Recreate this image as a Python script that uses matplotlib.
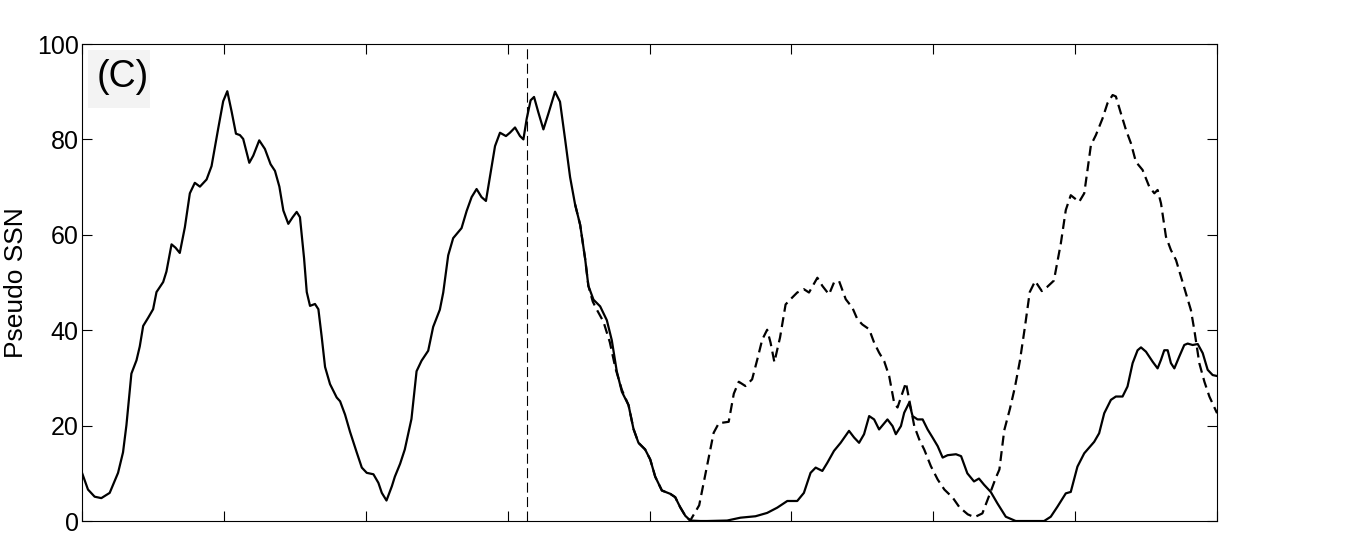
import matplotlib
matplotlib.use('Agg')
import matplotlib.pyplot as plt
from matplotlib.patches import Rectangle

# ======================
# DATA (x in tick units, 0..8)
# ======================
solid_x = [0, 0.042, 0.089, 0.136, 0.195, 0.254, 0.289, 0.313, 0.348, 0.384, 0.407, 0.431, 0.466,
           0.501, 0.525, 0.572, 0.595, 0.631, 0.659, 0.689, 0.725, 0.760, 0.795, 0.831, 0.878,
           0.913, 0.960, 0.995, 1.024, 1.054, 1.085, 1.113, 1.136, 1.179, 1.207, 1.249, 1.289,
           1.329, 1.36, 1.391, 1.419, 1.454, 1.485, 1.513, 1.536, 1.565, 1.584, 1.607, 1.642,
           1.666, 1.689, 1.713, 1.748, 1.795, 1.819, 1.854, 1.889, 1.936, 1.972, 2.007, 2.054,
           2.089, 2.113, 2.146, 2.184, 2.205, 2.242, 2.275, 2.322, 2.358, 2.393, 2.44, 2.475,
           2.522, 2.546, 2.581, 2.616, 2.675, 2.711, 2.746, 2.781, 2.816, 2.847, 2.875, 2.911,
           2.946, 2.988, 3.016, 3.052, 3.087, 3.111, 3.134, 3.162, 3.186, 3.216, 3.252, 3.287,
           3.334, 3.369, 3.405, 3.44, 3.475, 3.511, 3.546, 3.569, 3.605, 3.652, 3.699, 3.734,
           3.769, 3.805, 3.852, 3.887, 3.922, 3.969, 4.005, 4.04, 4.087, 4.146, 4.181, 4.216,
           4.252, 4.287, 4.358, 4.405, 4.547, 4.641, 4.747, 4.829, 4.9, 4.971, 5.041, 5.088,
           5.135, 5.171, 5.218, 5.253, 5.3, 5.347, 5.406, 5.442, 5.477, 5.512, 5.548, 5.583,
           5.618, 5.677, 5.713, 5.736, 5.772, 5.795, 5.83, 5.854, 5.889, 5.925, 5.96, 5.995,
           6.031, 6.066, 6.101, 6.16, 6.196, 6.24, 6.287, 6.322, 6.358, 6.405, 6.452, 6.511,
           6.581, 6.781, 6.828, 6.875, 6.934, 6.969, 7.016, 7.064, 7.134, 7.169, 7.205, 7.252,
           7.287, 7.334, 7.369, 7.405, 7.44, 7.464, 7.499, 7.546, 7.581, 7.605, 7.628, 7.652,
           7.675, 7.699, 7.734, 7.769, 7.793, 7.828, 7.864, 7.899, 7.934, 7.969, 8.0]
solid_y = [10.1, 6.6, 5.1, 4.8, 5.9, 10.1, 14.4, 20.1, 30.9, 33.7, 36.6, 40.9, 42.6,
           44.4, 48, 50.1, 52.3, 58, 57.3, 56.2, 61.6, 68.7, 70.9, 70.1, 71.6,
           74.4, 82.3, 88, 90.1, 85.9, 81.2, 80.9, 80.1, 75.1, 76.6, 79.8, 78,
           74.8, 73.4, 70.1, 65.1, 62.3, 63.7, 64.8, 63.7, 55.1, 48, 45.1, 45.5,
           44.4, 38.7, 32.3, 28.7, 25.9, 25.1, 22.3, 18.7, 14.4, 11.2, 10.1, 9.8,
           8, 5.9, 4.3, 7.3, 9.3, 12, 15, 21.4, 31.4, 33.6, 35.7, 40.7,
           44.3, 47.9, 55.7, 59.3, 61.4, 65, 67.9, 69.6, 67.9, 67.1, 72.1, 78.6,
           81.4, 80.7, 81.4, 82.5, 80.7, 80, 84.3, 88.2, 88.9, 85.7, 82.1, 85.4,
           90, 87.9, 80, 72.1, 66.4, 62.1, 55, 49.3, 46.4, 45, 42.1, 37.9,
           31.4, 27.1, 24.3, 19.3, 16.4, 15, 12.9, 9.3, 6.4, 5.7, 5, 2.9,
           1.1, 0.1, 0, 0, 0.1, 0.7, 1, 1.7, 2.8, 4.2, 4.2, 5.9,
           10.1, 11.2, 10.5, 12.2, 14.7, 16.4, 18.9, 17.5, 16.4, 18.2, 22, 21.3,
           19.2, 21.3, 19.9, 18.2, 19.9, 22.7, 24.8, 22, 21.3, 21.3, 19.2, 17.5,
           15.7, 13.3, 13.8, 14, 13.6, 10, 8.3, 8.9, 7.6, 6.1, 3.7, 0.9,
           0, 0, 0.9, 3, 5.8, 6.1, 11.4, 14.2, 16.6, 18.4, 22.6, 25.4,
           26.1, 26.1, 28.2, 33.1, 35.8, 36.4, 35.5, 33.4, 32, 33.8, 35.8, 35.8,
           33.1, 32, 34.5, 36.9, 37.2, 36.9, 37.1, 35.2, 31.7, 30.6, 30.4]

dashed_x = [3.475, 3.511, 3.546, 3.569, 3.6, 3.625, 3.675, 3.72, 3.76, 3.805, 3.852, 3.887,
            3.922, 3.969, 4.005, 4.04, 4.087, 4.146, 4.181, 4.216, 4.252, 4.287, 4.35, 4.405,
            4.452, 4.488, 4.558, 4.594, 4.629, 4.676, 4.723, 4.759, 4.794, 4.829, 4.853, 4.88,
            4.92, 4.959, 4.994, 5.041, 5.088, 5.124, 5.183, 5.218, 5.265, 5.3, 5.336, 5.383,
            5.43, 5.465, 5.5, 5.548, 5.583, 5.618, 5.654, 5.689, 5.724, 5.748, 5.783, 5.807,
            5.83, 5.866, 5.901, 5.936, 5.983, 6.031, 6.078, 6.137, 6.184, 6.243, 6.29, 6.346,
            6.40, 6.44, 6.466, 6.50, 6.54, 6.575, 6.61, 6.645, 6.68, 6.718, 6.765, 6.8,
            6.85, 6.899, 6.934, 6.969, 7.028, 7.064, 7.087, 7.111, 7.146, 7.193, 7.228, 7.264,
            7.287, 7.322, 7.358, 7.393, 7.428, 7.475, 7.522, 7.558, 7.581, 7.605, 7.64, 7.675,
            7.711, 7.746, 7.781, 7.816, 7.84, 7.875, 7.911, 7.946, 8.0]
dashed_y = [66.4, 62.1, 55, 49.3, 46, 44.5, 41.8, 37.5, 32, 27.5, 24.3, 19.3,
            16.4, 15, 12.9, 9.3, 6.4, 5.7, 5, 2.9, 1.1, 0.1, 3.3, 11.5,
            18.5, 20.5, 20.8, 26.7, 29.2, 28.3, 29.7, 33.8, 38, 40.1, 37.4, 33.3,
            38.5, 45.4, 46.5, 47.9, 48.6, 47.9, 51, 49.3, 47.5, 50, 50.3, 46.5,
            44.7, 42.3, 41.2, 40.2, 37.4, 35.3, 33.5, 30.4, 24.8, 23.8, 26.9, 29,
            25.5, 19.9, 17.1, 15, 11.5, 8.7, 6.6, 4.9, 2.9, 1.4, 0.8, 1.6,
            5.8, 9, 10.8, 19, 23.5, 28, 33.5, 40.5, 48, 50.3, 48.2, 49,
            50.4, 58.2, 65.2, 68.3, 66.9, 68.7, 73.6, 78.8, 80.9, 84.4, 87.6, 89.3,
            89, 85.5, 82, 79.2, 75.3, 73.6, 70.1, 68.7, 69.4, 66.6, 59.6, 56.8,
            54.7, 51.2, 47.7, 44.2, 40, 33.1, 29.2, 26.1, 22.6]

marker_x = 3.134
x_ticks = [0, 1, 2, 3, 4, 5, 6, 7, 8]
y_ticks = [0, 20, 40, 60, 80, 100]
panel_label = '(C)'

# ======================
# PLOT
# ======================
plt.rcParams['font.family'] = ['Liberation Sans', 'DejaVu Sans']

fig = plt.figure(figsize=(13.67, 5.34), dpi=100)
ax = fig.add_axes([0.06, 0.0243, 0.8303, 0.8933])

ax.plot(solid_x, solid_y, color='black', lw=1.6, solid_joinstyle='round')
ax.plot(dashed_x, dashed_y, color='black', lw=1.6, dashes=(4.5, 2.5))
ax.axvline(marker_x, color='black', lw=0.8, dashes=(9, 4))

ax.set_xlim(0, 8)
ax.set_ylim(0, 100)
ax.set_xticks(x_ticks)
ax.set_xticklabels([])
ax.set_yticks(y_ticks)
ax.tick_params(direction='in', length=7.5, width=0.8, top=True, right=True,
               labelsize=18, pad=2.5)
for s in ax.spines.values():
    s.set_linewidth(0.8)

ax.set_ylabel('Pseudo SSN', fontsize=19, labelpad=6)

# panel label in a light grey box
ax.add_patch(Rectangle((0.0053, 0.866), 0.0546, 0.121, transform=ax.transAxes,
                       facecolor='#f3f3f3', edgecolor='none', zorder=1))
ax.text(0.0357, 0.930, panel_label, transform=ax.transAxes, fontsize=27,
        ha='center', va='center', zorder=2)

fig.savefig('out.png', dpi=100)
